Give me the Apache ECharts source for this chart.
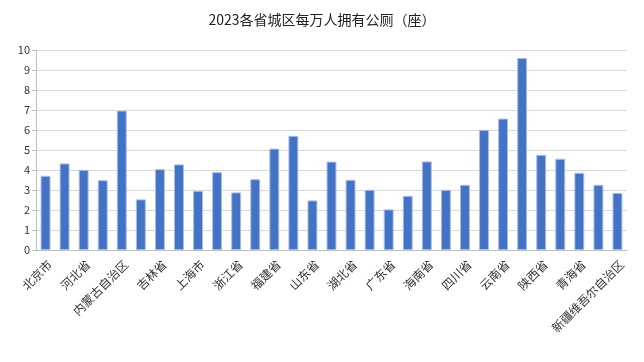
<!DOCTYPE html>
<html><head><meta charset="utf-8">
<script src="https://cdn.jsdelivr.net/npm/echarts@6/dist/echarts.min.js"></script>
<style>html,body{margin:0;padding:0;background:#fff}#c{width:644px;height:362px}</style>
</head><body><div id="c"></div>
<script>
const titleText = '2023各省城区每万人拥有公厕（座）';
const provinces = ['北京市','天津市','河北省','山西省','内蒙古自治区','辽宁省','吉林省','黑龙江省','上海市','江苏省','浙江省','安徽省','福建省','江西省','山东省','河南省','湖北省','湖南省','广东省','广西壮族自治区','海南省','重庆市','四川省','贵州省','云南省','西藏自治区','陕西省','甘肃省','青海省','宁夏回族自治区','新疆维吾尔自治区'];
const toiletsPer10k = [3.71,4.33,4.01,3.49,6.97,2.53,4.04,4.28,2.96,3.89,2.88,3.54,5.07,5.71,2.48,4.42,3.51,3.01,2.03,2.71,4.43,3.01,3.26,6.01,6.57,9.60,4.76,4.56,3.86,3.26,2.85];
const yTicks = {min:0,max:10,interval:1};
const chart = echarts.init(document.getElementById('c'));
chart.setOption({
  animation:false,
  title:{text:titleText,left:'center',top:8,textStyle:{fontFamily:'Noto Sans CJK SC',fontSize:14,fontWeight:'normal',color:'#222'}},
  grid:{left:36,right:17,top:50,bottom:112},
  xAxis:{type:'category',data:provinces,
    axisLine:{lineStyle:{color:'#bfbfbf'}},
    axisTick:{interval:1,alignWithLabel:true,length:4,lineStyle:{color:'#bfbfbf'}},
    axisLabel:{interval:1,rotate:45,verticalAlign:'top',fontFamily:'Noto Sans CJK SC',fontSize:12,color:'#333',margin:8}},
  yAxis:{type:'value',min:yTicks.min,max:yTicks.max,interval:yTicks.interval,
    axisLine:{show:true,lineStyle:{color:'#bfbfbf'}},
    axisTick:{show:true,length:4,lineStyle:{color:'#bfbfbf'}},
    splitLine:{lineStyle:{color:'#d9d9d9'}},
    axisLabel:{fontFamily:'Noto Sans CJK SC',fontSize:11,color:'#333',margin:6}},
  series:[{type:'bar',data:toiletsPer10k,barWidth:'52%',
    itemStyle:{color:'#4472c4',borderColor:'#a9bde6',borderWidth:1}}]
});
</script></body></html>
